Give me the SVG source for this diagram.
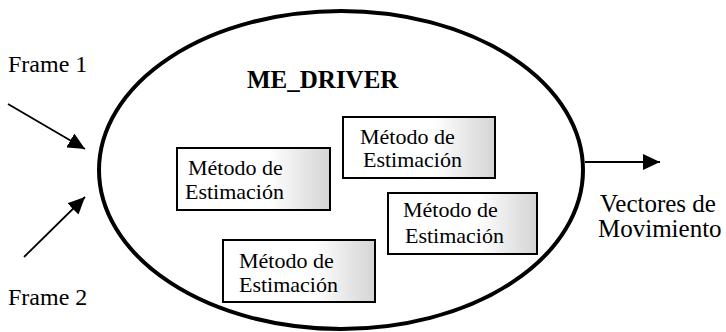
<svg xmlns="http://www.w3.org/2000/svg" width="726" height="332" viewBox="0 0 726 332">
<defs>
<marker id="ah" markerUnits="userSpaceOnUse" markerWidth="18" markerHeight="16" refX="17" refY="8" orient="auto">
<path d="M0,0 L17,8 L0,16 Z" fill="#000"/>
</marker>
<linearGradient id="tex" x1="0" y1="0" x2="1" y2="0">
<stop offset="0" stop-color="#fff"/>
<stop offset="0.6" stop-color="#fff"/>
<stop offset="0.85" stop-color="#e4e4e4"/>
<stop offset="1" stop-color="#d4d4d4"/>
</linearGradient>
</defs>
<style>
text{font-family:"Liberation Serif","Times New Roman",serif;fill:#000}
.lbl{font-size:24px}
.big{font-size:25px}
.box rect{fill:url(#tex);stroke:#000;stroke-width:2}
.box text{font-size:22px}
.conn line{stroke:#000;stroke-width:1.8;marker-end:url(#ah)}
</style>
<rect width="726" height="332" fill="#fff"/>
<g id="me_driver">
<ellipse cx="341" cy="170" rx="242" ry="159" fill="none" stroke="#000" stroke-width="4"/>
<text x="247" y="88" style="font-size:25px;font-weight:bold">ME_DRIVER</text>
</g>
<g id="metodo1" class="box">
<rect x="177" y="148" width="153" height="62"/>
<text x="188" y="175">Método de</text>
<text x="185" y="199">Estimación</text>
</g>
<g id="metodo2" class="box">
<rect x="343" y="117" width="152" height="61"/>
<text x="360" y="144">Método de</text>
<text x="363" y="167">Estimación</text>
</g>
<g id="metodo3" class="box">
<rect x="388" y="193" width="149" height="61"/>
<text x="403" y="217">Método de</text>
<text x="405" y="243">Estimación</text>
</g>
<g id="metodo4" class="box">
<rect x="223" y="240" width="152" height="62"/>
<text x="239" y="268">Método de</text>
<text x="239" y="292">Estimación</text>
</g>
<g id="frame1"><text class="lbl" x="8" y="72">Frame 1</text></g>
<g id="frame2"><text class="lbl" x="8" y="305">Frame 2</text></g>
<g id="vectores"><text class="big" x="600" y="212">Vectores de</text><text class="big" x="598" y="237">Movimiento</text></g>
<g id="connectors" class="conn">
<line x1="8" y1="104" x2="85" y2="149"/>
<line x1="24" y1="257" x2="85" y2="197"/>
<line x1="585" y1="162" x2="660" y2="162"/>
</g>
</svg>
